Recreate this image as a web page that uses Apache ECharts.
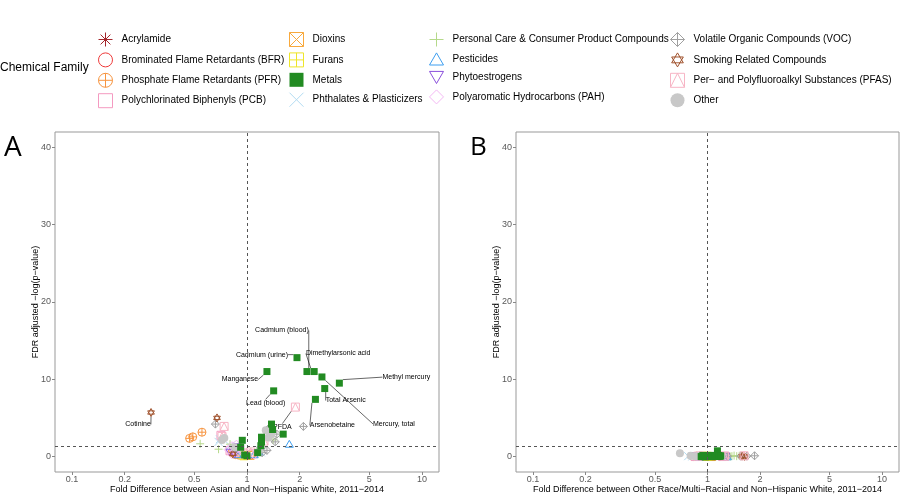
<!DOCTYPE html>
<html>
<head>
<meta charset="utf-8">
<script src="https://cdn.jsdelivr.net/npm/echarts@6/dist/echarts.min.js"></script>
<style>
html, body { margin: 0; padding: 0; background: #fff; }
#main { width: 900px; height: 494px; }
</style>
</head>
<body>
<div id="main"></div>
<script>
// legend order (column by column)
var families = [
  'Acrylamide',
  'Brominated Flame Retardants (BFR)',
  'Phosphate Flame Retardants (PFR)',
  'Polychlorinated Biphenyls (PCB)',
  'Dioxins',
  'Furans',
  'Metals',
  'Phthalates & Plasticizers',
  'Personal Care & Consumer Product Compounds',
  'Pesticides',
  'Phytoestrogens',
  'Polyaromatic Hydrocarbons (PAH)',
  'Volatile Organic Compounds (VOC)',
  'Smoking Related Compounds',
  'Per\u2212 and Polyfluoroalkyl Substances (PFAS)',
  'Other'
];

// axis ticks
var xTicks = [0.1, 0.2, 0.5, 1, 2, 5, 10];
var yTicks = [0, 10, 20, 30, 40];
var pThreshold = 1.30103; // -log10(0.05)

// panel A : [fold difference, -log(p), label]
var aAcrylamide = [[0.91, 0.35]];
var aBFR = [[0.86, 0.55], [1.06, 0.2]];
var aPFR = [[0.47, 2.35], [0.49, 2.55], [0.553, 3.15], [0.82, 0.5], [0.86, 0.25]];
var aPCB = [[0.71, 2.75], [0.84, 1.0], [0.9, 0.6], [0.8, 0.75], [1.08, 0.35], [0.95, 0.45]];
var aDioxins = [[0.93, 0.2], [1.04, 0.15]];
var aFurans = [[0.96, 0.1]];
var aMetals = [
  [1.93, 12.8, 'Cadmium (urine)'], [2.20, 11.0, 'Cadmium (blood)'], [2.42, 11.0, 'Dimethylarsonic acid'],
  [2.68, 10.3, 'Mercury, total'], [3.37, 9.5, 'Methyl mercury'], [2.78, 8.8, 'Total Arsenic'],
  [2.46, 7.4, 'Arsenobetaine'], [1.30, 11.0, 'Manganese'], [1.42, 8.5, 'Lead (blood)'],
  [1.38, 4.2], [1.40, 3.5], [1.61, 2.9], [1.21, 2.5], [1.21, 1.9], [1.20, 1.4],
  [0.94, 2.1], [0.92, 1.2], [0.97, 0.2], [1.0, 0.1], [1.15, 0.5]
];
var aPhthalates = [[0.688, 1.9], [0.70, 2.25], [0.80, 1.4], [0.90, 0.4], [1.2, 0.55], [0.86, 0.9]];
var aPersonal = [[0.54, 1.65], [0.688, 0.95], [1.41, 2.15], [0.95, 0.25], [1.15, 0.3], [0.8, 1.6]];
var aPesticides = [[1.745, 1.65], [0.88, 0.3], [1.17, 0.65], [1.1, 0.3]];
var aPhyto = [[0.80, 0.5], [0.85, 0.3], [0.88, 1.2]];
var aPAH = [[0.78, 0.9], [0.82, 1.4], [0.85, 0.7], [0.88, 0.45], [0.9, 1.1], [0.92, 0.8], [1.1, 0.2], [0.82, 0.25], [0.87, 1.6]];
var aVOC = [[0.66, 4.2], [2.1, 3.9], [1.31, 3.5], [1.45, 1.9], [1.48, 2.9], [1.3, 0.8], [1.22, 0.5], [0.86, 1.0]];
var aSmoking = [[0.283, 5.7, 'Cotinine'], [0.674, 5.0], [0.83, 0.35]];
var aPFAS = [[1.89, 6.4, 'PFDA'], [0.74, 3.9], [0.72, 2.6], [1.32, 3.2], [1.25, 2.0], [1.05, 0.6]];
var aOther = [[0.742, 2.4], [0.72, 2.15], [1.33, 2.45], [1.28, 3.4], [1.38, 2.9], [0.85, 1.2], [1.18, 0.9]];

// panel B
var bAcrylamide = [[0.98, 0.05]];
var bBFR = [[0.9, 0.02], [1.1, 0.05]];
var bPFR = [[0.83, 0.0], [0.87, 0.05], [1.2, 0.02]];
var bPCB = [[0.85, 0.0], [0.9, 0.05], [1.22, 0.0], [1.26, 0.05]];
var bDioxins = [[0.95, 0.03], [1.05, 0.0]];
var bFurans = [[1.0, 0.04]];
var bMetals = [
  [0.92, 0.0], [0.95, 0.05], [0.97, -0.05], [1.0, 0.02], [1.03, 0.05], [1.06, -0.02], [1.09, 0.03],
  [1.12, 0.05], [1.15, 0.0], [1.18, 0.02], [1.14, 0.74], [0.94, 0.15], [1.0, 0.12], [1.05, 0.15],
  [1.1, 0.1], [1.16, 0.12], [1.19, 0.1]
];
var bPhthalates = [[0.775, 0.05], [0.82, 0.02], [0.88, 0.05]];
var bPersonal = [[1.38, 0.05], [1.42, 0.12], [1.47, 0.05], [1.52, 0.1], [1.35, 0.0]];
var bPesticides = [[1.3, 0.03], [0.9, 0.0]];
var bPhyto = [[1.27, 0.0], [0.86, 0.02]];
var bPAH = [[0.87, 0.02], [1.25, 0.05], [1.28, 0.02], [0.92, 0.05]];
var bVOC = [[1.68, 0.05], [1.86, 0.1], [1.3, 0.05], [1.55, 0.05]];
var bSmoking = [[1.58, 0.05], [1.63, 0.02]];
var bPFAS = [[0.88, 0.05], [1.25, 0.05], [1.62, 0.1]];
var bOther = [[0.695, 0.44], [0.8, 0.1], [0.85, 0.05], [0.9, 0.08], [1.2, 0.05]];

var panelA = [aAcrylamide, aBFR, aPFR, aPCB, aDioxins, aFurans, aMetals, aPhthalates,
  aPersonal, aPesticides, aPhyto, aPAH, aVOC, aSmoking, aPFAS, aOther];
var panelB = [bAcrylamide, bBFR, bPFR, bPCB, bDioxins, bFurans, bMetals, bPhthalates,
  bPersonal, bPesticides, bPhyto, bPAH, bVOC, bSmoking, bPFAS, bOther];

var xTitles = [
  'Fold Difference between Asian and Non\u2212Hispanic White, 2011\u22122014',
  'Fold Difference between Other Race/Multi\u2212Racial and Non\u2212Hispanic White, 2011\u22122014'
];

// ---- styles ----
var famColors = ['#a4262c', '#ef3b3b', '#f7943f', '#f49ac1', '#f8a93c', '#eee52a', '#228b22', '#b3dcf2',
  '#b5d98a', '#3d9ef0', '#8a4fdc', '#f4b8f4', '#a0a0a0', '#a0522d', '#f7b5c5', '#c8c8c8'];
var famSymbols = [
  'path://M10 0L10 20M0 10L20 10M3 3L17 17M17 3L3 17',
  'circle',
  'path://M0 10A10 10 0 1 1 20 10A10 10 0 1 1 0 10ZM10 0L10 20M0 10L20 10',
  'path://M0 0L20 0L20 20L0 20Z',
  'path://M0 0L20 0L20 20L0 20ZM0 0L20 20M20 0L0 20',
  'path://M0 0L20 0L20 20L0 20ZM10 0L10 20M0 10L20 10',
  'path://M0 0L20 0L20 20L0 20Z',
  'path://M0 0L20 20M20 0L0 20',
  'path://M10 0L10 20M0 10L20 10',
  'path://M10 0L20 17.3L0 17.3Z',
  'path://M0 0L20 0L10 17.3Z',
  'path://M10 0L20 10L10 20L0 10Z',
  'path://M10 0L20 10L10 20L0 10ZM10 0L10 20M0 10L20 10',
  'path://M10 0L20 17L0 17ZM0 7L20 7L10 24Z',
  'path://M0 0L20 0L20 20L0 20ZM0 20L10 0L20 20',
  'circle'
];
var famFilled = [false, false, false, false, false, false, true, false,
  false, false, false, false, false, false, false, true];

// ggrepel-like label placement, label centre relative to point (px)
var labelShift = {
  'Cotinine': [-13, 12],
  'Cadmium (blood)': [-25, -41],
  'Cadmium (urine)': [-35, -3],
  'Dimethylarsonic acid': [24, -18],
  'Manganese': [-27, 8],
  'Lead (blood)': [-8, 12],
  'Methyl mercury': [67, -6],
  'Total Arsenic': [21, 12],
  'Mercury, total': [72, 47],
  'Arsenobetaine': [17, 26],
  'PFDA': [-13, 20]
};

var FONT = "'Liberation Sans', Helvetica, Arial, sans-serif";

function makeSeries(points, fi, gi) {
  var c = famColors[fi];
  return {
    name: families[fi],
    type: 'scatter',
    xAxisIndex: gi,
    yAxisIndex: gi,
    z: fi === 6 ? 3 : 2, // metals drawn on top
    symbol: famSymbols[fi],
    symbolSize: fi === 6 ? 7 : 8,
    symbolKeepAspect: true,
    itemStyle: famFilled[fi]
      ? { color: c, opacity: 1 }
      : { color: 'rgba(255,255,255,0)', borderColor: c, borderWidth: 1, opacity: 1 },
    label: { show: false, position: 'inside', formatter: '{b}', color: '#000', fontSize: 7, fontFamily: FONT },
    labelLine: { show: false, length2: 0, lineStyle: { color: '#000', width: 0.6 } },
    labelLayout: function (p) {
      var s = labelShift[p.text];
      if (!s) return {};
      return {
        x: p.rect.x + p.rect.width / 2 + s[0],
        y: p.rect.y + p.rect.height / 2 + s[1],
        align: 'center',
        verticalAlign: 'middle'
      };
    },
    emphasis: { disabled: true },
    data: points.map(function (p) {
      var d = { value: [p[0], p[1]] };
      if (p[2]) {
        d.name = p[2];
        d.label = { show: true };
        d.labelLine = { show: true };
      }
      return d;
    })
  };
}

var series = [];
[panelA, panelB].forEach(function (panel, gi) {
  panel.forEach(function (pts, fi) {
    series.push(makeSeries(pts, fi, gi));
  });
  // reference lines: fold = 1 and FDR p = 0.05
  series.push({
    type: 'line',
    xAxisIndex: gi,
    yAxisIndex: gi,
    data: [],
    silent: true,
    z: 5,
    markLine: {
      silent: true,
      symbol: 'none',
      label: { show: false },
      lineStyle: { color: '#555', width: 1, type: [3, 3] },
      data: [{ xAxis: 1 }, { yAxis: pThreshold }]
    }
  });
});

var grids = [
  { left: 55, top: 132, width: 384, height: 340 },
  { left: 516, top: 132, width: 383, height: 340 }
].map(function (g) {
  g.show = true;
  g.backgroundColor = '#fff';
  g.borderColor = '#999';
  g.borderWidth = 1;
  g.containLabel = false;
  g.outerBoundsMode = 'none';
  return g;
});

var xAxes = [0, 1].map(function (gi) {
  return {
    type: 'log',
    logBase: 10,
    gridIndex: gi,
    min: 0.08,
    max: 12.5,
    name: xTitles[gi],
    nameLocation: 'middle',
    nameGap: 13,
    nameMoveOverlap: false,
    nameTextStyle: { fontSize: 9, color: '#000', fontFamily: FONT },
    axisLine: { show: false, onZero: false },
    axisTick: { show: true, length: 3, customValues: xTicks, lineStyle: { color: '#888' } },
    axisLabel: {
      customValues: xTicks, fontSize: 9, color: '#595959', margin: 3, fontFamily: FONT,
      formatter: function (v) { return String(+v.toPrecision(3)); }
    },
    splitLine: { show: false }
  };
});

var yAxes = [0, 1].map(function (gi) {
  return {
    type: 'value',
    gridIndex: gi,
    min: -2,
    max: 42,
    name: 'FDR adjusted \u2212log(p\u2212value)',
    nameLocation: 'middle',
    nameGap: 15,
    nameMoveOverlap: false,
    nameTextStyle: { fontSize: 9, color: '#000', fontFamily: FONT },
    axisLine: { show: false, onZero: false },
    axisTick: { show: true, length: 3, customValues: yTicks, lineStyle: { color: '#888' } },
    axisLabel: { customValues: yTicks, fontSize: 9, color: '#595959', margin: 4, fontFamily: FONT },
    splitLine: { show: false }
  };
});

var legendLeft = [98, 289, 429, 670];
var legends = legendLeft.map(function (left, c) {
  return {
    orient: 'vertical',
    left: left,
    top: 32,
    itemWidth: 14,
    itemHeight: 14,
    itemGap: 5.4,
    padding: 0,
    selectedMode: false,
    data: families.slice(c * 4, c * 4 + 4),
    itemStyle: { borderWidth: 1 },
    textStyle: { fontSize: 10, color: '#000', fontFamily: FONT, padding: [0, 0, 0, 4] }
  };
});

var chart = echarts.init(document.getElementById('main'));
chart.setOption({
  animation: false,
  backgroundColor: '#fff',
  textStyle: { fontFamily: FONT },
  grid: grids,
  xAxis: xAxes,
  yAxis: yAxes,
  legend: legends,
  graphic: [
    { type: 'text', left: 0, top: 62, style: { text: 'Chemical Family', fontSize: 12, fill: '#000', fontFamily: FONT } },
    { type: 'text', left: 4, top: 134, style: { text: 'A', fontSize: 28, fill: '#000', fontFamily: "'Open Sans', sans-serif" } },
    { type: 'text', left: 470, top: 135, style: { text: 'B', fontSize: 26, fill: '#000', fontFamily: "'Open Sans', sans-serif" } }
  ],
  series: series
});
</script>
</body>
</html>
